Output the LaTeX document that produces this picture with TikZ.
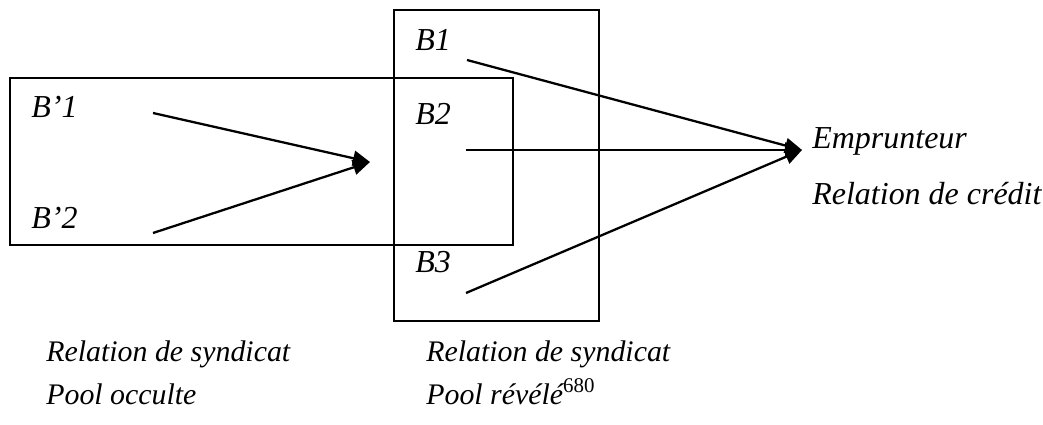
\documentclass[tikz,border=0pt]{standalone}
\usepackage{fontspec}
\setmainfont{Liberation Serif}
\usetikzlibrary{arrows.meta}
\tikzset{lbl/.style={anchor=base west,inner sep=0pt,font=\itshape\fontsize{18.2}{21}\selectfont},
	legende/.style={lbl,font=\itshape\fontsize{17}{20}\selectfont},
	fleche/.style={-{Triangle[length=0.34cm,width=0.3cm]},line width=1.3pt},
	cadre/.style={line width=0.9pt}}
\begin{document}
\begin{tikzpicture}[x=0.02cm,y=-0.02cm]
	\useasboundingbox(0,0)rectangle(1043,425);
	\draw[cadre](10,78)rectangle(513,245);
	\draw[cadre](394,10)rectangle(599,321);
	\node[lbl](bp1) at(31,118){B’1};
	\node[lbl](bp2) at(31,229){B’2};
	\node[lbl](b1) at(415,51){B1};
	\node[lbl](b2) at(415,125){B2};
	\node[lbl](b3) at(415,273){B3};
	\node[lbl](empr) at(812,149){Emprunteur};
	\node[lbl](credit) at(812,205){Relation de crédit};
	\node[legende](synd1) at(46,361){Relation de syndicat};
	\node[legende](occ) at(46,404){Pool occulte};
	\node[legende](synd2) at(426,361){Relation de syndicat};
	\node[legende](rev) at(426,404){Pool révélé\textsuperscript{\upshape 680}};
	\coordinate(sbp1) at(153,113);
	\coordinate(sbp2) at(153,233);
	\coordinate(pool) at(370,162);
	\coordinate(sb1) at(467,60);
	\coordinate(sb2) at(466,150);
	\coordinate(sb3) at(466,293);
	\coordinate(emp) at(802,150);
	\draw[fleche](sbp1)--(pool);
	\draw[fleche](sbp2)--(pool);
	\draw[fleche](sb1)--(emp);
	\draw[fleche](sb2)--(emp);
	\draw[fleche](sb3)--(emp);
\end{tikzpicture}
\end{document}
